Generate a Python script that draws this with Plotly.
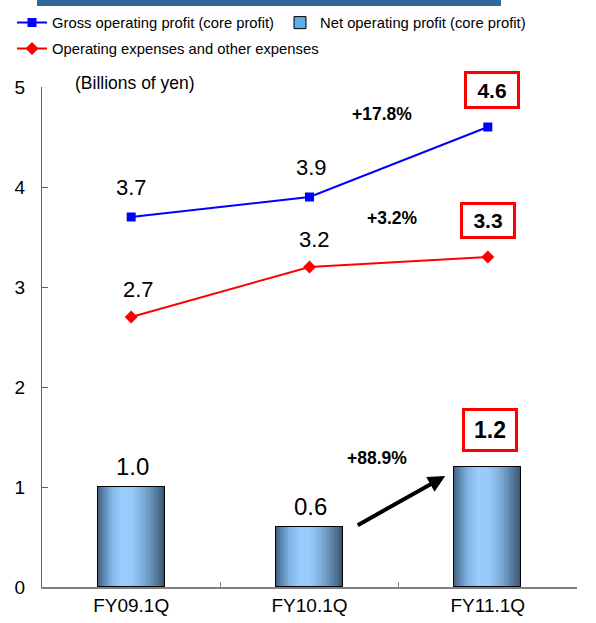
import plotly.graph_objects as go

# Data (billions of yen)
quarters = ["FY09.1Q", "FY10.1Q", "FY11.1Q"]
gross_profit = [3.7, 3.9, 4.6]
op_expenses = [2.7, 3.2, 3.3]
net_profit = [1.0, 0.6, 1.2]
growth_labels = ["+17.8%", "+3.2%", "+88.9%"]

BAR_W = 0.375
FONT = "Liberation Sans, Arial, sans-serif"

# horizontal shading across each bar (position, colour)
shade_stops = [
    (0.00, (0x44, 0x62, 0x7f)),
    (0.08, (0x5a, 0x85, 0xad)),
    (0.20, (0x80, 0xb4, 0xe4)),
    (0.36, (0x9a, 0xcd, 0xff)),
    (0.52, (0x96, 0xc8, 0xf8)),
    (0.67, (0x80, 0xaf, 0xdb)),
    (0.82, (0x60, 0x88, 0xae)),
    (0.93, (0x4a, 0x69, 0x8a)),
    (1.00, (0x3b, 0x53, 0x6d)),
]


def shade(t):
    for (t0, c0), (t1, c1) in zip(shade_stops[:-1], shade_stops[1:]):
        if t0 <= t <= t1:
            f = (t - t0) / (t1 - t0) if t1 > t0 else 0
            return "rgb(%d,%d,%d)" % tuple(round(a + (b - a) * f) for a, b in zip(c0, c1))
    return "rgb(59,83,109)"


fig = go.Figure()

# base bar (also provides the legend swatch)
fig.add_trace(go.Bar(
    x=quarters, y=net_profit, width=BAR_W,
    marker=dict(color="#5aaee8", line=dict(color="black", width=1)),
    name="Net operating profit (core profit)", legend="legend",
    legendrank=2, hoverinfo="skip",
))

# shaded strips layered from left to right
N = 34
for i in range(N):
    t = i / N
    fig.add_trace(go.Bar(
        x=quarters, y=net_profit,
        width=BAR_W * (1 - t), offset=-BAR_W / 2 + BAR_W * t,
        marker=dict(color=shade((i + 0.5) / N), line=dict(width=0)),
        showlegend=False, hoverinfo="skip",
    ))

# outline on top
fig.add_trace(go.Bar(
    x=quarters, y=net_profit, width=BAR_W,
    marker=dict(color="rgba(0,0,0,0)", line=dict(color="black", width=1)),
    showlegend=False, hoverinfo="skip",
))

fig.add_trace(go.Scatter(
    x=quarters, y=gross_profit, mode="lines+markers",
    line=dict(color="#0000ff", width=2),
    marker=dict(symbol="square", size=9, color="#0000ff"),
    name="Gross operating profit (core profit)", legend="legend", legendrank=1,
))
fig.add_trace(go.Scatter(
    x=quarters, y=op_expenses, mode="lines+markers",
    line=dict(color="#ff0000", width=2),
    marker=dict(symbol="diamond", size=10, color="#ff0000"),
    name="Operating expenses and other expenses", legend="legend2",
))

annotations = []

# plain value labels
line_label_dx = [0, 2, 0]
exp_label_dx = [7, 5, 0]
for i in range(2):
    annotations.append(dict(x=quarters[i], y=gross_profit[i], text=f"{gross_profit[i]:.1f}",
                            showarrow=False, yshift=30, xshift=line_label_dx[i],
                            font=dict(size=22, color="black", family=FONT)))
    annotations.append(dict(x=quarters[i], y=op_expenses[i], text=f"{op_expenses[i]:.1f}",
                            showarrow=False, yshift=28, xshift=exp_label_dx[i],
                            font=dict(size=22, color="black", family=FONT)))
    annotations.append(dict(x=quarters[i], y=net_profit[i], text=f"{net_profit[i]:.1f}",
                            showarrow=False, yshift=21, xshift=1,
                            font=dict(size=24, color="black", family=FONT)))

# boxed latest-quarter values
boxed = [(gross_profit[2], 37, 4, 21, 38), (op_expenses[2], 37, 0, 21, 37), (net_profit[2], 37, 2, 23, 44)]
for v, dy, dx, fs, h in boxed:
    annotations.append(dict(x=quarters[2], y=v, text=f"<b>{v:.1f}</b>", showarrow=False,
                            yshift=dy, xshift=dx, width=48, height=h - 8, borderpad=1,
                            bordercolor="#ff0000", borderwidth=3, bgcolor="white",
                            font=dict(size=fs, color="black", family=FONT)))

# growth rates
growth_pos = [(1.406, 4.735), (1.467, 3.687), (1.377, 1.295)]
for txt, (gx, gy) in zip(growth_labels, growth_pos):
    annotations.append(dict(x=gx, y=gy, text=f"<b>{txt}</b>", showarrow=False,
                            xanchor="center", yanchor="middle",
                            font=dict(size=17.5, color="black", family=FONT)))

# arrow for net operating profit growth
annotations.append(dict(x=1.761, y=1.11, ax=1.262, ay=0.61, xref="x", yref="y",
                        axref="x", ayref="y", text="", showarrow=True,
                        arrowhead=2, arrowsize=0.85, arrowwidth=4, arrowcolor="black"))

annotations.append(dict(x=(134.5 - 42) / 535, y=(587 - 83) / 500, xref="paper", yref="paper",
                        text="(Billions of yen)", showarrow=False, xanchor="center", yanchor="middle",
                        font=dict(size=17.5, color="black", family=FONT)))

fig.update_layout(
    width=596, height=623,
    margin=dict(l=42, r=19, t=87, b=36, autoexpand=False),
    paper_bgcolor="white", plot_bgcolor="white",
    font=dict(family=FONT, color="black"),
    barmode="overlay", bargap=0,
    annotations=annotations,
    shapes=[dict(type="rect", xref="paper", yref="paper",
                 x0=(37 - 42) / 535, x1=(501 - 42) / 535, y0=(587 - 6) / 500, y1=(587 + 2) / 500,
                 fillcolor="#336699", line=dict(width=0))],
    legend=dict(orientation="h", x=(12 - 42) / 535, y=(587 - 23) / 500, xanchor="left",
                yanchor="middle", font=dict(size=14.8, color="black", family=FONT),
                bgcolor="rgba(0,0,0,0)", traceorder="normal", entrywidth=223, entrywidthmode="pixels"),
    legend2=dict(orientation="h", x=(12 - 42) / 535, y=(587 - 49) / 500, xanchor="left",
                 yanchor="middle", font=dict(size=14.8, color="black", family=FONT),
                 bgcolor="rgba(0,0,0,0)"),
    xaxis=dict(type="category", range=[-0.5, 2.5], showline=True, linecolor="#808080",
               linewidth=2, ticks="inside", tickson="boundaries", ticklen=5, tickcolor="#808080",
               tickfont=dict(size=19, color="black", family=FONT), showgrid=False, zeroline=False),
    yaxis=dict(range=[0, 5], dtick=1, showline=True, linecolor="#606060", linewidth=1,
               ticks="inside", ticklen=6, tickcolor="#606060", showgrid=False, zeroline=False,
               tickfont=dict(size=19, color="black", family=FONT), ticklabelstandoff=12),
)

fig.write_html("out.html")
